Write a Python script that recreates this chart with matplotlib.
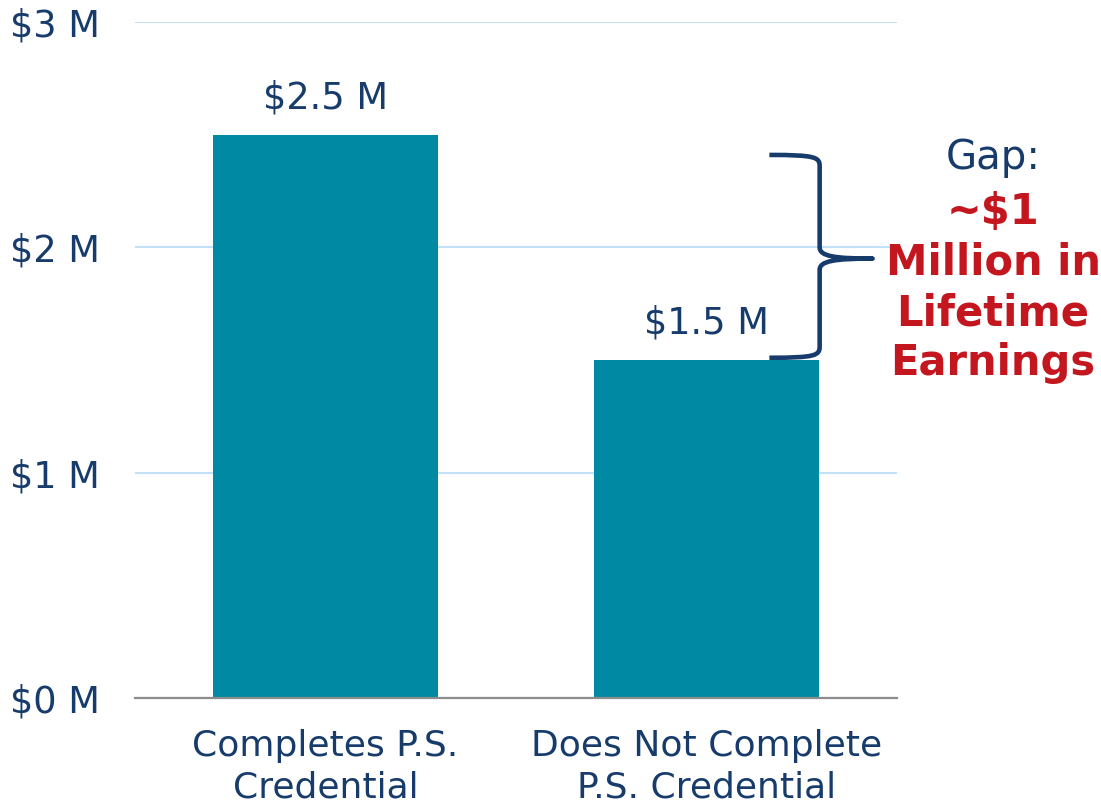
import matplotlib
matplotlib.use("Agg")
import matplotlib.pyplot as plt
from matplotlib.path import Path
from matplotlib.patches import PathPatch

# Data
categories = ["Completes P.S.\nCredential", "Does Not Complete\nP.S. Credential"]
earnings_millions = [2.5, 1.5]
value_labels = ["$2.5 M", "$1.5 M"]
y_ticks = [0, 1, 2, 3]
y_tick_labels = ["$0 M", "$1 M", "$2 M", "$3 M"]

NAVY = "#173C6C"
TEAL = "#0089A3"
RED = "#C3161E"
GRID = "#C2E1F7"

plt.rcParams["font.family"] = ["DejaVu Sans"]

fig = plt.figure(figsize=(11.01, 8.11), dpi=100)
ax = fig.add_axes([135 / 1101, 113 / 811, 762 / 1101, 676 / 811])

x = list(range(len(categories)))
ax.bar(x, earnings_millions, width=0.588, color=TEAL, zorder=3)

ax.set_xlim(-0.5, 1.5)
ax.set_ylim(0, 3)
ax.set_yticks(y_ticks)
ax.set_yticklabels(y_tick_labels, fontsize=26.5, color=NAVY, ha="left")
ax.set_xticks(x)
ax.set_xticklabels(categories, fontsize=26, color=NAVY, linespacing=1.3)
ax.tick_params(axis="y", length=0, pad=125 * 72 / 100)
ax.tick_params(axis="x", length=0, pad=22)

ax.grid(axis="y", color=GRID, linewidth=1.5, zorder=0)
for side in ("left", "right", "top"):
    ax.spines[side].set_visible(False)
ax.spines["bottom"].set_color("#8C8C8C")
ax.spines["bottom"].set_linewidth(1.6)
ax.spines["bottom"].set_zorder(4)

# Value labels above bars
for xi, val, lab in zip(x, earnings_millions, value_labels):
    ax.annotate(lab, (xi, val), xytext=(0, 13), textcoords="offset points",
                ha="center", va="bottom", fontsize=26.5, color=NAVY)

# Curly brace marking the gap
top, bot, tip = 2.41, 1.51, 1.95
x0, x1, xt = 1.165, 1.297, 1.436
c = 0.05
verts = [
    (x0, top),
    (x1 - 0.01, top), (x1, top - 0.01), (x1, top - c),
    (x1, tip + 0.05),
    (x1, tip + 0.01), (x1 + 0.04, tip), (xt, tip),
    (x1 + 0.04, tip), (x1, tip - 0.01), (x1, tip - 0.05),
    (x1, bot + c),
    (x1, bot + 0.01), (x1 - 0.01, bot), (x0, bot),
]
codes = [
    Path.MOVETO,
    Path.CURVE4, Path.CURVE4, Path.CURVE4,
    Path.LINETO,
    Path.CURVE4, Path.CURVE4, Path.CURVE4,
    Path.CURVE4, Path.CURVE4, Path.CURVE4,
    Path.LINETO,
    Path.CURVE4, Path.CURVE4, Path.CURVE4,
]
ax.add_patch(PathPatch(Path(verts, codes), fill=False, edgecolor=NAVY,
                       linewidth=3.3, capstyle="butt", joinstyle="round",
                       clip_on=False, zorder=5))

# Gap annotation text
cx = 993 / 1101
fig.text(cx, 1 - 158 / 811, "Gap:", ha="center", va="center",
         fontsize=29, color=NAVY)
gap_lines = ["~$1", "Million in", "Lifetime", "Earnings"]
for i, line in enumerate(gap_lines):
    fig.text(cx, 1 - (212 + i * 50.5) / 811, line, ha="center", va="center",
             fontsize=30, fontweight="bold", color=RED)

fig.savefig("out.png", dpi=100)
